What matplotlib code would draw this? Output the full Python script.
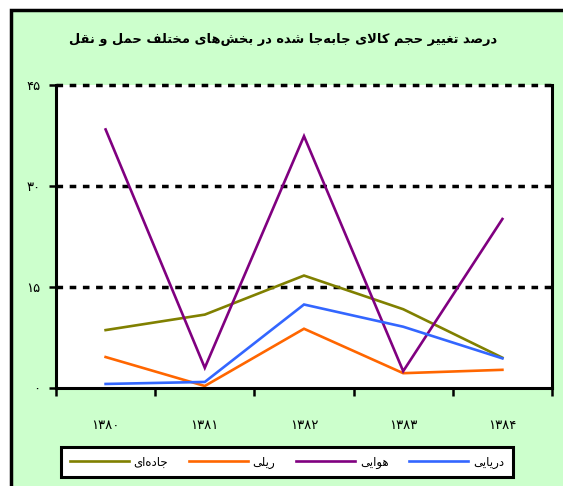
import matplotlib
matplotlib.use("Agg")
import matplotlib.pyplot as plt
from matplotlib.patches import Rectangle

# data
years = ["1380", "1381", "1382", "1383", "1384"]
road = [8.6, 10.9, 16.7, 11.7, 4.5]
rail = [4.6, 0.3, 8.8, 2.2, 2.7]
air = [38.4, 3.0, 37.4, 2.5, 25.1]
sea = [0.6, 0.9, 12.4, 9.1, 4.4]
series_names = ["جاده‌ای", "ریلی", "هوایی", "دریایی"]
colors = ["#808000", "#FF6600", "#800080", "#3366FF"]
yticks = [0, 15, 30, 45]
title = "درصد تغییر حجم کالای جابه‌جا شده در بخش‌های مختلف حمل و نقل"

# simple arabic/persian shaping (matplotlib has no text shaping)
FORMS = {
    "ا": (0xFE8D, 0xFE8E, None, None),
    "ب": (0xFE8F, 0xFE90, 0xFE91, 0xFE92),
    "ت": (0xFE95, 0xFE96, 0xFE97, 0xFE98),
    "ج": (0xFE9D, 0xFE9E, 0xFE9F, 0xFEA0),
    "ح": (0xFEA1, 0xFEA2, 0xFEA3, 0xFEA4),
    "خ": (0xFEA5, 0xFEA6, 0xFEA7, 0xFEA8),
    "د": (0xFEA9, 0xFEAA, None, None),
    "ر": (0xFEAD, 0xFEAE, None, None),
    "ز": (0xFEAF, 0xFEB0, None, None),
    "س": (0xFEB1, 0xFEB2, 0xFEB3, 0xFEB4),
    "ش": (0xFEB5, 0xFEB6, 0xFEB7, 0xFEB8),
    "ص": (0xFEB9, 0xFEBA, 0xFEBB, 0xFEBC),
    "غ": (0xFECD, 0xFECE, 0xFECF, 0xFED0),
    "ف": (0xFED1, 0xFED2, 0xFED3, 0xFED4),
    "ق": (0xFED5, 0xFED6, 0xFED7, 0xFED8),
    "ک": (0xFED9, 0xFEDA, 0xFEDB, 0xFEDC),
    "ل": (0xFEDD, 0xFEDE, 0xFEDF, 0xFEE0),
    "م": (0xFEE1, 0xFEE2, 0xFEE3, 0xFEE4),
    "ن": (0xFEE5, 0xFEE6, 0xFEE7, 0xFEE8),
    "ه": (0xFEE9, 0xFEEA, 0xFEEB, 0xFEEC),
    "و": (0xFEED, 0xFEEE, None, None),
    "ی": (0xFEEF, 0xFEF0, 0xFEF3, 0xFEF4),
}


def dual(c):
    return c in FORMS and FORMS[c][2] is not None


def shape(text):
    out = []
    i = 0
    n = len(text)
    while i < n:
        c = text[i]
        if c not in FORMS:
            if c != "\u200c":
                out.append(c)
            i += 1
            continue
        prev_join = i > 0 and dual(text[i - 1])
        nxt = text[i + 1] if i + 1 < n else ""
        if c == "ل" and nxt == "ا":
            out.append(chr(0xFEFC if prev_join else 0xFEFB))
            i += 2
            continue
        next_join = dual(c) and nxt in FORMS
        f = FORMS[c]
        if prev_join and next_join:
            code = f[3]
        elif prev_join:
            code = f[1]
        elif next_join:
            code = f[2]
        else:
            code = f[0]
        out.append(chr(code))
        i += 1
    return "".join(out[::-1])


fa_digits = str.maketrans("0123456789", "۰۱۲۳۴۵۶۷۸۹")

plt.rcParams['font.family'] = ['DejaVu Sans']

fig = plt.figure(figsize=(5.63, 4.86), dpi=100)
fig.patch.set_facecolor("white")
fig.patches.append(Rectangle((10.5 / 563, -0.1), 1.2, 1 - 9.5 / 486 + 0.1,
                             transform=fig.transFigure, facecolor="#CCFFCC",
                             edgecolor="black", linewidth=2.5, zorder=-10))

ax = fig.add_axes([56 / 563, 1 - 388 / 486, 496 / 563, 303 / 486])
ax.set_facecolor("white")

x = range(len(years))
for vals, c in zip([road, rail, air, sea], colors):
    ax.plot(x, vals, color=c, lw=1.9, solid_joinstyle="miter")

ax.set_xlim(-0.5, len(years) - 0.5)
ax.set_ylim(0, 45)

ax.set_yticks(yticks)
ax.set_yticklabels([str(v).translate(fa_digits) for v in yticks], fontsize=9.5)
ax.tick_params(axis="y", length=5, width=1.8, pad=6)
for v in yticks[1:]:
    ax.axhline(v, color="black", lw=2.5, ls=(0, (1.9, 1.9)), zorder=1,
               clip_on=False)

ax.set_xticks([i - 0.5 for i in range(len(years) + 1)])
ax.set_xticklabels([])
ax.tick_params(axis="x", which="major", length=6, width=1.8)
ax.set_xticks(list(x), minor=True)
ax.set_xticklabels([y.translate(fa_digits) for y in years], minor=True, fontsize=9.5)
ax.tick_params(axis="x", which="minor", length=0, pad=22)

for s in ["left", "bottom", "right"]:
    ax.spines[s].set_linewidth(2.2)
ax.spines["top"].set_visible(False)

fig.text(283 / 563, 1 - 40 / 486, shape(title), ha="center", va="center",
         fontsize=9.4, fontweight="bold")

handles = ax.get_lines()[:4]
leg = fig.legend(handles, [shape(s) for s in series_names], ncol=4,
                 loc="center", bbox_to_anchor=(287 / 563, 1 - 462 / 486),
                 fontsize=8.5, handlelength=5.0, columnspacing=1.75,
                 handletextpad=0.4, frameon=True, fancybox=False,
                 borderpad=0.75, framealpha=1)
leg.get_frame().set_edgecolor("black")
leg.get_frame().set_linewidth(2.2)

fig.savefig("out.png", dpi=100)
